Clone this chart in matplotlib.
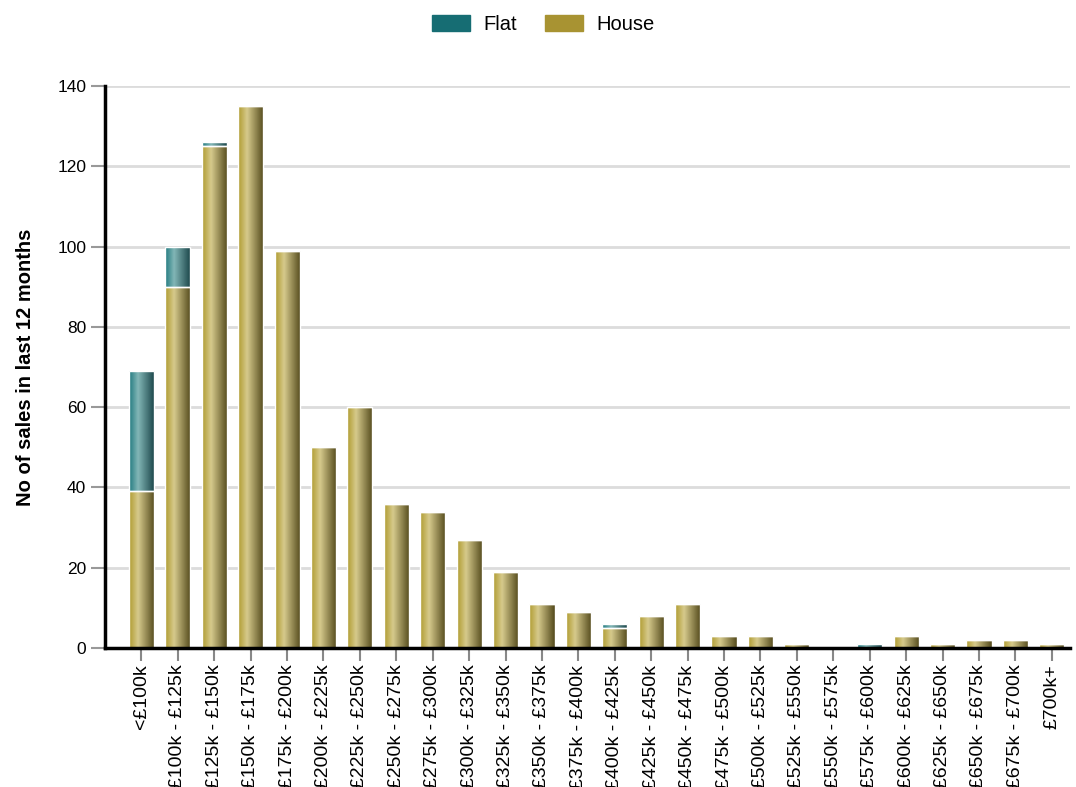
import numpy as np
import matplotlib.pyplot as plt
from matplotlib.colors import LinearSegmentedColormap
from matplotlib.patches import Patch

categories = ['<£100k', '£100k - £125k', '£125k - £150k', '£150k - £175k', '£175k - £200k',
              '£200k - £225k', '£225k - £250k', '£250k - £275k', '£275k - £300k', '£300k - £325k',
              '£325k - £350k', '£350k - £375k', '£375k - £400k', '£400k - £425k', '£425k - £450k',
              '£450k - £475k', '£475k - £500k', '£500k - £525k', '£525k - £550k', '£550k - £575k',
              '£575k - £600k', '£600k - £625k', '£625k - £650k', '£650k - £675k', '£675k - £700k',
              '£700k+']
house = [39, 90, 125, 135, 99, 50, 60, 36, 34, 27, 19, 11, 9, 5, 8, 11, 3, 3, 1, 0, 0, 3, 1, 2, 2, 1]
flat = [30, 10, 1, 0, 0, 0, 0, 0, 0, 0, 0, 0, 0, 1, 0, 0, 0, 0, 0, 0, 1, 0, 0, 0, 0, 0]

plt.rcParams['font.family'] = ['Liberation Sans', 'DejaVu Sans']

fig = plt.figure(figsize=(10.76, 7.87), dpi=100)
ax = fig.add_axes([0.0976, 0.1766, 0.8968, 0.7141])

# cylinder-like shading, light stripe left of centre, dark on the right
house_cmap = LinearSegmentedColormap.from_list('house', [(0, '#b09c30'), (0.35, '#d6ca8c'), (1, '#544a1c')])
flat_cmap = LinearSegmentedColormap.from_list('flat', [(0, '#227a80'), (0.35, '#82b6b6'), (1, '#194448')])
grad = np.linspace(0, 1, 64).reshape(1, -1)

x = np.arange(len(categories))
width = 0.69


def shaded_bars(values, bottoms, cmap):
    bars = ax.bar(x, values, width, bottom=bottoms, color='none', edgecolor='white', linewidth=1, zorder=3)
    for b in bars:
        if b.get_height() <= 0:
            continue
        x0, y0 = b.get_x(), b.get_y()
        im = ax.imshow(grad, cmap=cmap, aspect='auto', interpolation='bilinear',
                       extent=(x0, x0 + b.get_width(), y0, y0 + b.get_height()), zorder=2)
        im.set_clip_path(b)


shaded_bars(house, None, house_cmap)
shaded_bars(flat, house, flat_cmap)

ax.set_xlim(-1, len(categories) - 0.5)
ax.set_ylim(0, 140)
ax.set_yticks(np.arange(0, 141, 20))
ax.set_xticks(x)
ax.set_xticklabels(categories, rotation=90, fontsize=14)
ax.tick_params(axis='y', labelsize=12.5, color='#999999', length=10, width=1.5)
ax.tick_params(axis='x', color='#888888', length=9, width=1.5, pad=3)

ax.yaxis.grid(True, color='#dcdcdc', linewidth=2)
ax.set_axisbelow(True)
for s in ['top', 'right']:
    ax.spines[s].set_visible(False)
for s in ['left', 'bottom']:
    ax.spines[s].set_linewidth(2.5)
    ax.spines[s].set_zorder(4)

ax.set_ylabel('No of sales in last 12 months', fontsize=14.5, fontweight='bold', labelpad=16)

fig.legend(handles=[Patch(color='#166d73', label='Flat'), Patch(color='#a89332', label='House')],
           loc='upper center', bbox_to_anchor=(0.505, 1.004), ncol=2, frameon=False, fontsize=14.5,
           handlelength=1.9, handleheight=0.8, columnspacing=1.4, handletextpad=0.65)

fig.savefig('out.png', dpi=100)
